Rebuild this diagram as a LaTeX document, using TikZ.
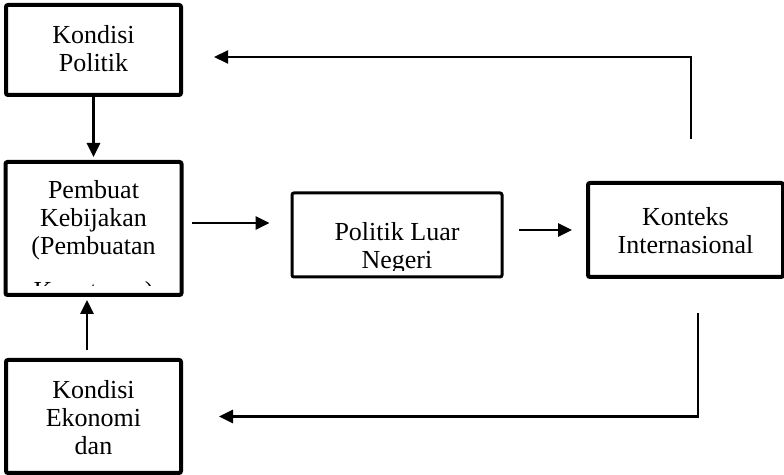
\documentclass[tikz,border=0pt]{standalone}
\usepackage{fontspec}
\setmainfont{Liberation Serif}
\usetikzlibrary{positioning,arrows.meta}

\begin{document}
\begin{tikzpicture}[x=0.5pt,y=-0.5pt,
    kotak/.style={draw,line width=2pt,rounded corners=1pt,inner sep=0pt},
    teks/.style={anchor=north,align=center,inner sep=0pt,font=\fontsize{13}{14}\selectfont},
    panah/.style={-{Triangle[length=7pt,width=6.5pt]},line width=1.4pt},
    balik/.style={-{Triangle[length=7pt,width=6.5pt]},line width=1pt}]
          \useasboundingbox (0,0) rectangle (784,475);
          % kotak kiri
          \draw node[kotak,minimum width=87.5pt,minimum height=45pt] (kp) at (93.5,50) {};
          \draw node[kotak,minimum width=88pt,minimum height=66.5pt,below=31.5pt of kp] (pk) {};
          \draw node[kotak,minimum width=87.5pt,minimum height=56.5pt,below=30.5pt of pk] (ke) {};
          % kotak tengah dan kanan
          \draw node[kotak,line width=1.5pt,minimum width=105pt,minimum height=42pt] (plm) at (397,235) {};
          \draw node[kotak,minimum width=97.5pt,minimum height=47pt] (ki) at (685.5,230) {};
          % teks
          \draw node[teks,below=11pt of kp.north] (kpteks) {Kondisi\\Politik};
          \begin{scope}
            \clip (pk.north west) rectangle ([yshift=5.5pt]pk.south east);
            \draw node[teks,below=10pt of pk.north] (pkteks) {Pembuat\\Kebijakan\\(Pembuatan\\[8.5pt]Keputusan)};
          \end{scope}
          \draw node[teks,below=11pt of ke.north] (keteks) {Kondisi\\Ekonomi\\dan};
          \begin{scope}
            \clip (plm.north west) rectangle ([yshift=4pt]plm.south east);
            \draw node[teks,below=15.25pt of plm.north] (plmteks) {Politik Luar\\Negeri};
          \end{scope}
          \draw node[teks,below=13pt of ki.north] (kiteks) {Konteks\\Internasional};
          % panah
          \draw[panah,shorten >=1.5pt] (kp.south) -- (kp.south |- pk.north);
          \coordinate (u1) at ([xshift=-3.25pt]ke.north);
          \draw[panah,shorten <=4pt,shorten >=1.5pt] (u1) -- (u1 |- pk.south);
          \coordinate (h1) at ([yshift=2.75pt]pk.east);
          \draw[panah,shorten <=4pt,shorten >=10.5pt] (h1) -- (h1 -| plm.west);
          \draw[panah,shorten <=7.5pt,shorten >=7pt] (plm.east |- ki.west) -- (ki.west);
          % umpan balik
          \coordinate (a1) at ([xshift=2.75pt,yshift=21pt]ki.north);
          \coordinate (a2) at ([xshift=15.5pt,yshift=-3.5pt]kp.east);
          \draw[balik] (a1) |- (a2);
          \coordinate (b1) at ([xshift=6.25pt,yshift=-17pt]ki.south);
          \coordinate (b2) at ([xshift=18pt]ke.east);
          \draw[panah] (b1) |- (b2);
        \end{tikzpicture}
\end{document}
